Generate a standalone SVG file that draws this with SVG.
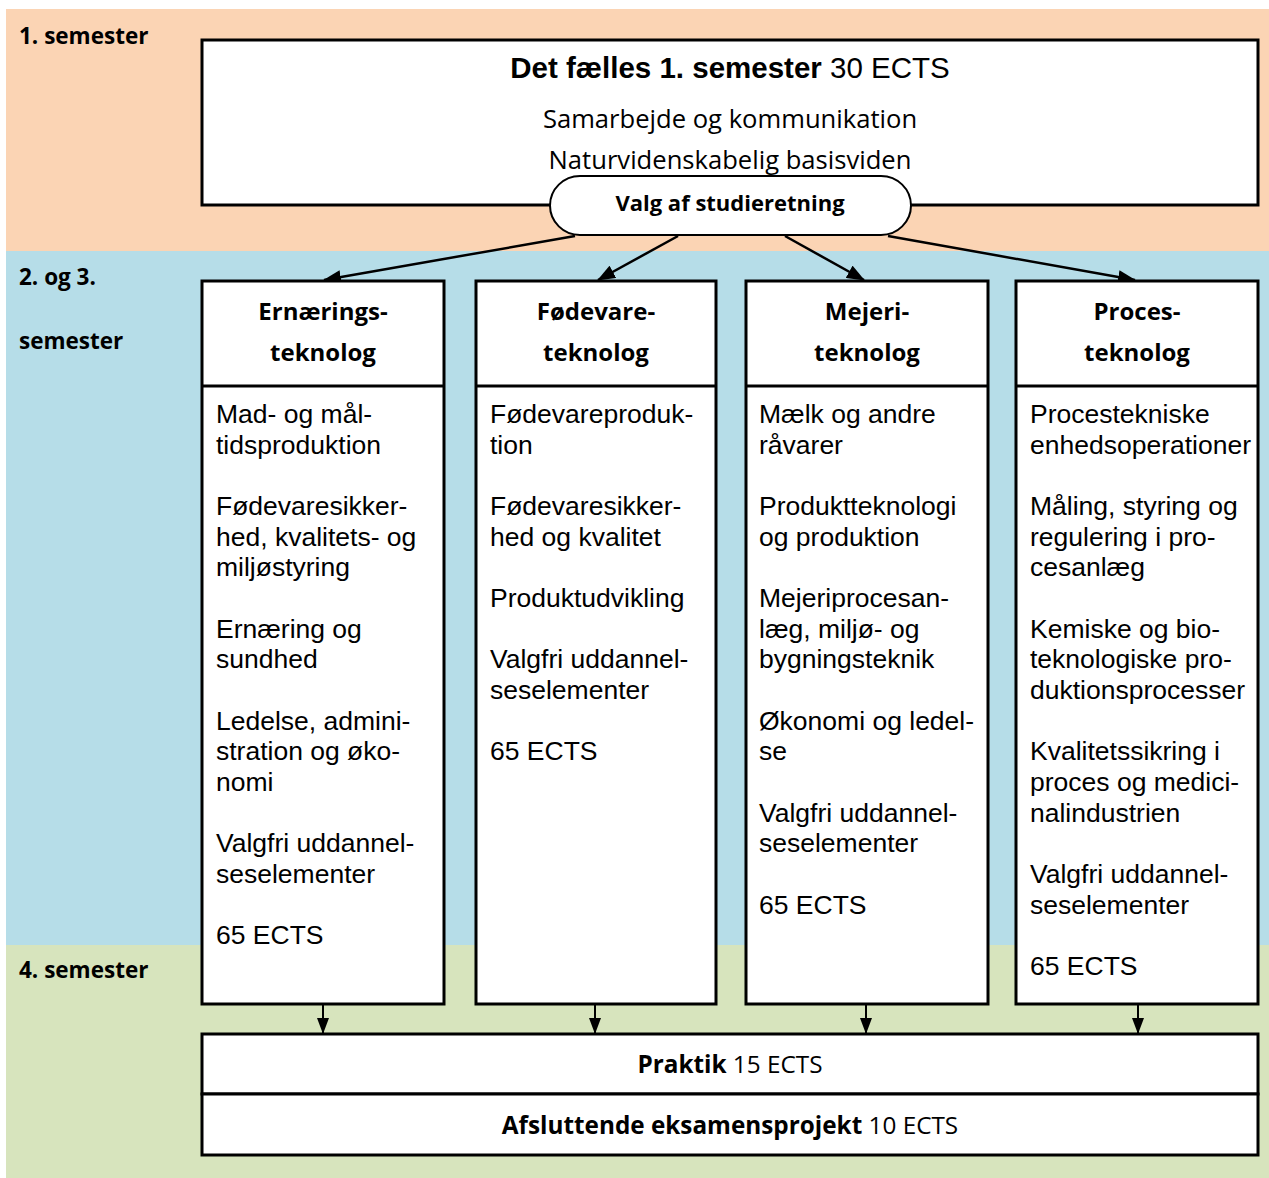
<svg xmlns="http://www.w3.org/2000/svg" width="1269" height="1178" viewBox="0 0 1269 1178">
<style>
.box{fill:#fff;stroke:#000;stroke-width:3}
.lbl{font-family:"Open Sans","Noto Sans",sans-serif;font-weight:bold;font-size:22.5px;fill:#000}
.hdr{font-family:"Open Sans","Noto Sans",sans-serif;font-weight:bold;font-size:24px;fill:#000;text-anchor:middle}
.cal{font-family:"Open Sans","Noto Sans",sans-serif;font-size:24.3px;fill:#000;text-anchor:middle}
.body{font-family:"Liberation Sans",Arial,sans-serif;font-size:26.5px;fill:#000}
.arr{stroke:#000;stroke-width:2.5;fill:none}
.arr2{stroke:#000;stroke-width:2;fill:none}
</style>
<defs>
<marker id="ah" markerUnits="userSpaceOnUse" markerWidth="18" markerHeight="14" refX="17" refY="7" orient="auto">
<path d="M0,0 L18,7 L0,14 Z" fill="#000"/>
</marker>
<marker id="ah2" markerUnits="userSpaceOnUse" markerWidth="16" markerHeight="12" refX="15" refY="6" orient="auto">
<path d="M0,0 L16,6 L0,12 Z" fill="#000"/>
</marker>
</defs>
<g id="bands">
<rect x="6" y="9" width="1263" height="242" fill="#FBD4B4"/>
<rect x="6" y="251" width="1263" height="694" fill="#B6DDE8"/>
<rect x="6" y="945" width="1263" height="233" fill="#D7E4BD"/>
<text class="lbl" x="19" y="44">1. semester</text>
<text class="lbl" x="19" y="285">2. og 3.</text>
<text class="lbl" x="19" y="349">semester</text>
<text class="lbl" x="19" y="978">4. semester</text>
</g>
<g id="sem1">
<rect class="box" x="202" y="40" width="1056" height="165"/>
<text x="730" y="78" text-anchor="middle" font-family="Liberation Sans, Arial, sans-serif" font-size="29.5px"><tspan font-weight="bold">Det fælles 1. semester</tspan> 30 ECTS</text>
<text class="cal" x="730" y="128" style="font-size:25.6px">Samarbejde og kommunikation</text>
<text class="cal" x="730" y="169" style="font-size:25.6px">Naturvidenskabelig basisviden</text>
</g>
<g id="valg">
<rect x="550" y="176" width="361" height="59" rx="30" ry="30" fill="#fff" stroke="#000" stroke-width="2"/>
<text class="hdr" x="730" y="211" style="font-size:22px">Valg af studieretning</text>
</g>
<g id="connectors">
<line class="arr" x1="575" y1="236" x2="324" y2="280" marker-end="url(#ah)"/>
<line class="arr" x1="678" y1="236" x2="598" y2="280" marker-end="url(#ah)"/>
<line class="arr" x1="785" y1="236" x2="864" y2="280" marker-end="url(#ah)"/>
<line class="arr" x1="888" y1="236" x2="1135" y2="280" marker-end="url(#ah)"/>
<line class="arr2" x1="323" y1="1003" x2="323" y2="1033" marker-end="url(#ah2)"/>
<line class="arr2" x1="595" y1="1003" x2="595" y2="1033" marker-end="url(#ah2)"/>
<line class="arr2" x1="866" y1="1003" x2="866" y2="1033" marker-end="url(#ah2)"/>
<line class="arr2" x1="1138" y1="1003" x2="1138" y2="1033" marker-end="url(#ah2)"/>
</g>
<g id="col1">
<rect class="box" x="202" y="281" width="242" height="723"/>
<line x1="202" y1="386" x2="444" y2="386" stroke="#000" stroke-width="3"/>
<text class="hdr" x="323" y="320">Ernærings-</text>
<text class="hdr" x="323" y="361">teknolog</text>
<text class="body" x="216">
<tspan x="216" y="423">Mad- og mål-</tspan>
<tspan x="216" y="454">tidsproduktion</tspan>
<tspan x="216" y="515">Fødevaresikker-</tspan>
<tspan x="216" y="546">hed, kvalitets- og</tspan>
<tspan x="216" y="576">miljøstyring</tspan>
<tspan x="216" y="638">Ernæring og</tspan>
<tspan x="216" y="668">sundhed</tspan>
<tspan x="216" y="730">Ledelse, admini-</tspan>
<tspan x="216" y="760">stration og øko-</tspan>
<tspan x="216" y="791">nomi</tspan>
<tspan x="216" y="852">Valgfri uddannel-</tspan>
<tspan x="216" y="883">seselementer</tspan>
<tspan x="216" y="944">65 ECTS</tspan>
</text>
</g>
<g id="col2">
<rect class="box" x="476" y="281" width="240" height="723"/>
<line x1="476" y1="386" x2="716" y2="386" stroke="#000" stroke-width="3"/>
<text class="hdr" x="596" y="320">Fødevare-</text>
<text class="hdr" x="596" y="361">teknolog</text>
<text class="body">
<tspan x="490" y="423">Fødevareproduk-</tspan>
<tspan x="490" y="454">tion</tspan>
<tspan x="490" y="515">Fødevaresikker-</tspan>
<tspan x="490" y="546">hed og kvalitet</tspan>
<tspan x="490" y="607">Produktudvikling</tspan>
<tspan x="490" y="668">Valgfri uddannel-</tspan>
<tspan x="490" y="699">seselementer</tspan>
<tspan x="490" y="760">65 ECTS</tspan>
</text>
</g>
<g id="col3">
<rect class="box" x="746" y="281" width="242" height="723"/>
<line x1="746" y1="386" x2="988" y2="386" stroke="#000" stroke-width="3"/>
<text class="hdr" x="867" y="320">Mejeri-</text>
<text class="hdr" x="867" y="361">teknolog</text>
<text class="body">
<tspan x="759" y="423">Mælk og andre</tspan>
<tspan x="759" y="454">råvarer</tspan>
<tspan x="759" y="515">Produktteknologi</tspan>
<tspan x="759" y="546">og produktion</tspan>
<tspan x="759" y="607">Mejeriprocesan-</tspan>
<tspan x="759" y="638">læg, miljø- og</tspan>
<tspan x="759" y="668">bygningsteknik</tspan>
<tspan x="759" y="730">Økonomi og ledel-</tspan>
<tspan x="759" y="760">se</tspan>
<tspan x="759" y="822">Valgfri uddannel-</tspan>
<tspan x="759" y="852">seselementer</tspan>
<tspan x="759" y="914">65 ECTS</tspan>
</text>
</g>
<g id="col4">
<rect class="box" x="1016" y="281" width="242" height="723"/>
<line x1="1016" y1="386" x2="1258" y2="386" stroke="#000" stroke-width="3"/>
<text class="hdr" x="1137" y="320">Proces-</text>
<text class="hdr" x="1137" y="361">teknolog</text>
<text class="body">
<tspan x="1030" y="423">Procestekniske</tspan>
<tspan x="1030" y="454">enhedsoperationer</tspan>
<tspan x="1030" y="515">Måling, styring og</tspan>
<tspan x="1030" y="546">regulering i pro-</tspan>
<tspan x="1030" y="576">cesanlæg</tspan>
<tspan x="1030" y="638">Kemiske og bio-</tspan>
<tspan x="1030" y="668">teknologiske pro-</tspan>
<tspan x="1030" y="699">duktionsprocesser</tspan>
<tspan x="1030" y="760">Kvalitetssikring i</tspan>
<tspan x="1030" y="791">proces og medici-</tspan>
<tspan x="1030" y="822">nalindustrien</tspan>
<tspan x="1030" y="883">Valgfri uddannel-</tspan>
<tspan x="1030" y="914">seselementer</tspan>
<tspan x="1030" y="975">65 ECTS</tspan>
</text>
</g>
<g id="praktik">
<rect class="box" x="202" y="1034" width="1056" height="60"/>
<text class="cal" x="730" y="1073"><tspan font-weight="bold">Praktik</tspan> 15 ECTS</text>
</g>
<g id="eksamen">
<rect class="box" x="202" y="1094" width="1056" height="61"/>
<text class="cal" x="730" y="1134"><tspan font-weight="bold">Afsluttende eksamensprojekt</tspan> 10 ECTS</text>
</g>
</svg>
